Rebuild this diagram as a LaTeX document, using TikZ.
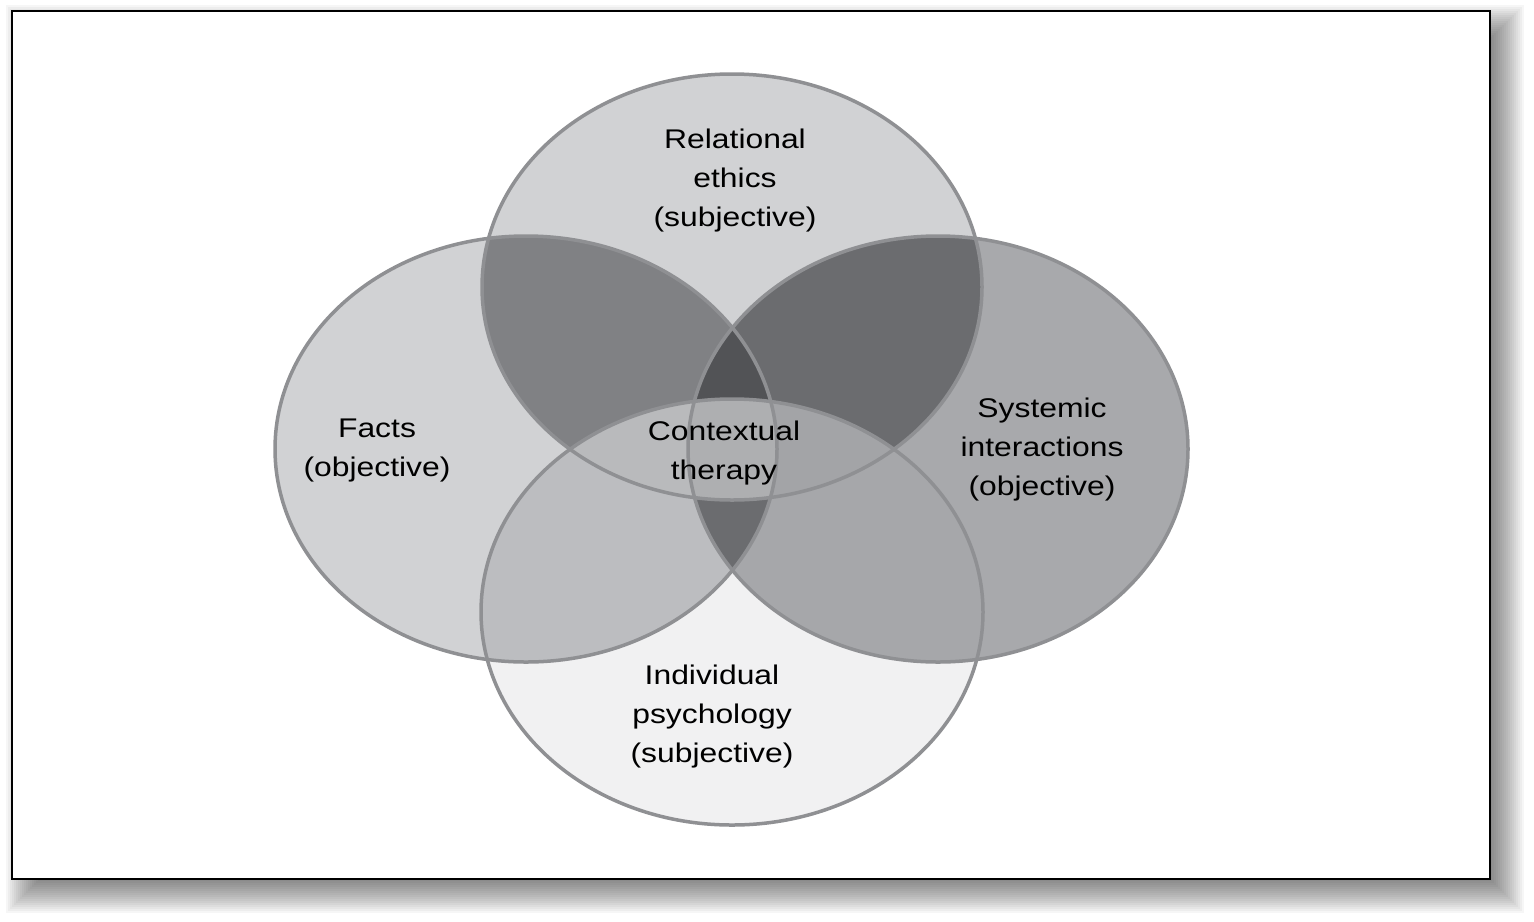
\documentclass[tikz,border=0pt]{standalone}
\usepackage{graphicx}
\usepackage{fontspec}
\setmainfont{Liberation Sans}
\definecolor{cTop}{HTML}{D1D2D4}
\definecolor{cLeft}{HTML}{D1D2D4}
\definecolor{cRight}{HTML}{A8A9AC}
\definecolor{cBot}{HTML}{F1F1F2}
\definecolor{cTL}{HTML}{808184}
\definecolor{cTR}{HTML}{6B6C6F}
\definecolor{cLB}{HTML}{BCBDC0}
\definecolor{cRB}{HTML}{A6A7AA}
\definecolor{cTLR}{HTML}{525356}
\definecolor{cBLR}{HTML}{6B6C6F}
\definecolor{cTBL}{HTML}{B9BABC}
\definecolor{cTBR}{HTML}{A3A4A7}
\definecolor{cAll}{HTML}{AEAFB1}
\definecolor{cEdge}{HTML}{8F9093}
\newcommand\vtxt[1]{\scalebox{1.18}[1]{\begin{tabular}{@{}c@{}}#1\end{tabular}}}
\begin{document}
\begin{tikzpicture}[x=0.5pt,y=-0.5pt,
  lbl/.style={inner sep=0pt, text=black, font=\fontsize{13.5}{19.5}\selectfont},
  rim/.style={draw=cEdge, line width=1.75pt}]
\useasboundingbox (0,0) rectangle (1534,921);
% shadow
\foreach \e in {20,18,...,-20} {
  \fill[black, fill opacity=0.035] ({26-\e},{25-\e}) rectangle ({1504+\e},{893+\e});
}
\draw[fill=white, line width=1.3pt] (12,11) rectangle (1490,879);
% ellipse paths
\def\pT{(732,287) ellipse [x radius=125pt, y radius=106.5pt]}
\def\pL{(526,449) ellipse [x radius=125.5pt, y radius=106.5pt]}
\def\pR{(938,449) ellipse [x radius=125pt, y radius=106.5pt]}
\def\pB{(732,612) ellipse [x radius=125.5pt, y radius=106.5pt]}
% single fills
\fill[cTop] \pT;
\fill[cLeft] \pL;
\fill[cRight] \pR;
\fill[cBot] \pB;
% pairs
\begin{scope}\clip \pT; \fill[cTL] \pL; \end{scope}
\begin{scope}\clip \pT; \fill[cTR] \pR; \end{scope}
\begin{scope}\clip \pL; \fill[cLB] \pB; \end{scope}
\begin{scope}\clip \pR; \fill[cRB] \pB; \end{scope}
% triples
\begin{scope}\clip \pT; \clip \pL; \fill[cTLR] \pR; \end{scope}
\begin{scope}\clip \pB; \clip \pL; \fill[cBLR] \pR; \end{scope}
\begin{scope}\clip \pT; \clip \pB; \fill[cTBL] \pL; \end{scope}
\begin{scope}\clip \pT; \clip \pB; \fill[cTBR] \pR; \end{scope}
\begin{scope}\clip \pT; \clip \pB; \clip \pL; \fill[cAll] \pR; \end{scope}
% outlines
\draw[rim] \pT;
\draw[rim] \pL;
\draw[rim] \pR;
\draw[rim] \pB;
% labels
\node[lbl] (rel) at (735,180) {\vtxt{Relational\\ethics\\(subjective)}};
\node[lbl] (fac) at (377,449) {\vtxt{Facts\\(objective)}};
\node[lbl] (ctx) at (724,452) {\vtxt{Contextual\\therapy}};
\node[lbl] (sys) at (1042,449) {\vtxt{Systemic\\interactions\\(objective)}};
\node[lbl] (ind) at (712,716) {\vtxt{Individual\\psychology\\(subjective)}};
\end{tikzpicture}
\end{document}
